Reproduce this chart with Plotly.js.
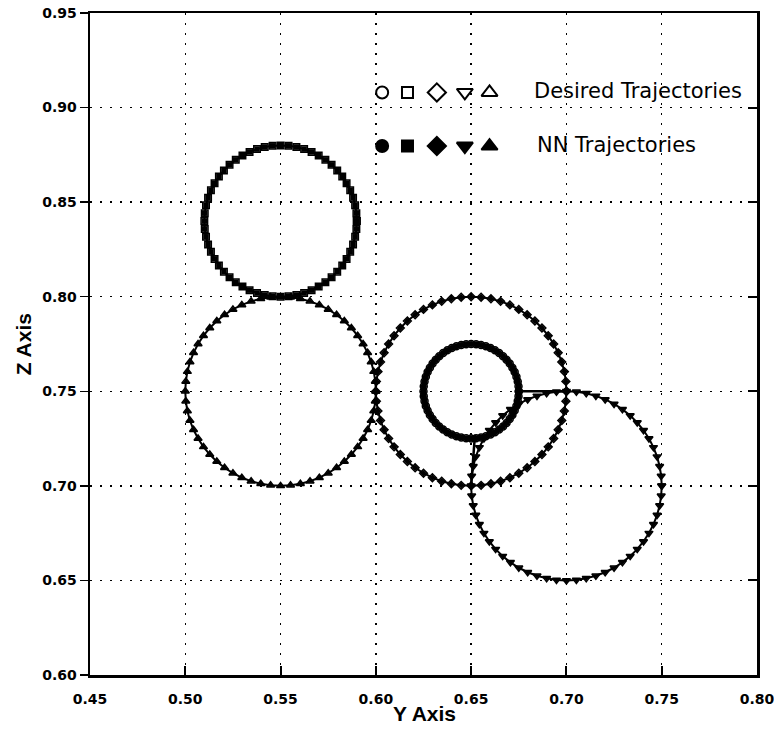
<!DOCTYPE html>
<html>
<head>
<meta charset="utf-8">
<script src="https://cdn.plot.ly/plotly-3.0.1.min.js"></script>
<style>html,body{margin:0;padding:0;background:#fff;}#chart{width:774px;height:729px;}</style>
</head>
<body>
<div id="chart"></div>
<script>
// Trajectory definitions (circles in the Y-Z plane)
const openSymbols   = ['circle-open', 'square-open', 'diamond-open', 'triangle-down-open', 'triangle-up-open'];
const filledSymbols = ['circle', 'square', 'diamond', 'triangle-down', 'triangle-up'];
const centerY = [0.65, 0.55, 0.65, 0.70, 0.55];
const centerZ = [0.75, 0.84, 0.75, 0.70, 0.75];
const radius  = [0.025, 0.04, 0.05, 0.05, 0.05];
const nPoints = [60, 60, 60, 60, 60];

// Transition segments of the NN trajectories
const transY = [[0.674, 0.70], [0.652, 0.65]];
const transZ = [[0.75, 0.75], [0.727, 0.70]];

// Axis ticks
const xTicks = [0.45, 0.50, 0.55, 0.60, 0.65, 0.70, 0.75, 0.80];
const yTicks = [0.60, 0.65, 0.70, 0.75, 0.80, 0.85, 0.90, 0.95];

// Labels
const legendLabels = ['Desired Trajectories', 'NN Trajectories'];
const xTitle = 'Y Axis';
const yTitle = 'Z Axis';

const markerSize = [7, 6.5, 6, 7, 7];

const traces = [];
for (let i = 0; i < centerY.length; i++) {
  const ys = [], zs = [];
  for (let k = 0; k <= nPoints[i]; k++) {
    const a = 2 * Math.PI * k / nPoints[i];
    ys.push(centerY[i] + radius[i] * Math.cos(a));
    zs.push(centerZ[i] + radius[i] * Math.sin(a));
  }
  traces.push({
    x: ys, y: zs, type: 'scatter', mode: 'lines+markers',
    line: {color: '#000', width: 2},
    marker: {symbol: openSymbols[i], size: markerSize[i], color: '#000', opacity: 1, line: {width: 1.5, color: '#000'}},
    showlegend: false, hoverinfo: 'skip'
  });
  traces.push({
    x: ys, y: zs, type: 'scatter', mode: 'markers',
    marker: {symbol: filledSymbols[i], size: markerSize[i] - 1, color: '#000', opacity: 1},
    showlegend: false, hoverinfo: 'skip'
  });
}
for (let j = 0; j < transY.length; j++) {
  traces.push({
    x: transY[j], y: transZ[j], type: 'scatter', mode: 'lines',
    line: {color: '#000', width: 2.5}, showlegend: false, hoverinfo: 'skip'
  });
}
traces.push({x: [], y: [], yaxis: 'y2', type: 'scatter', showlegend: false});

// Legend key symbols on an overlay unit-square axis
const keyX = [0.438, 0.476, 0.520, 0.562, 0.599];
const keySize = [12, 11, 14, 14, 14];
traces.push({
  x: keyX, y: keyX.map(() => 0.880), xaxis: 'x3', yaxis: 'y3', type: 'scatter', mode: 'markers',
  marker: {symbol: openSymbols, size: keySize, color: '#000', opacity: 1, line: {width: 2, color: '#000'}},
  showlegend: false, hoverinfo: 'skip'
});
traces.push({
  x: keyX, y: keyX.map(() => 0.799), xaxis: 'x3', yaxis: 'y3', type: 'scatter', mode: 'markers',
  marker: {symbol: filledSymbols, size: keySize, color: '#000', opacity: 1, line: {width: 2, color: '#000'}},
  showlegend: false, hoverinfo: 'skip'
});

const tickFont = {family: 'DejaVu Sans, Verdana, sans-serif', size: 14, color: '#000', weight: 'bold'};
const txtFont = {family: 'DejaVu Sans, sans-serif', size: 21, color: '#000'};
const titleFont = {family: 'Liberation Sans, Arial, sans-serif', size: 21, color: '#000', weight: 'bold'};

const annotations = [
  {xref: 'paper', yref: 'paper', x: 0.662, y: 0.882, text: legendLabels[0], showarrow: false, font: txtFont, xanchor: 'left', yanchor: 'middle'},
  {xref: 'paper', yref: 'paper', x: 0.667, y: 0.800, text: legendLabels[1], showarrow: false, font: txtFont, xanchor: 'left', yanchor: 'middle'},
  {xref: 'paper', yref: 'paper', x: 0.502, y: -0.0575, text: xTitle, showarrow: false, font: titleFont, xanchor: 'center', yanchor: 'middle'},
  {xref: 'paper', yref: 'paper', x: -0.100, y: 0.50, text: yTitle, showarrow: false, font: titleFont, xanchor: 'center', yanchor: 'middle', textangle: -90}
];

const layout = {
  width: 774, height: 729,
  margin: {l: 90, r: 17, t: 13, b: 54},
  paper_bgcolor: '#fff', plot_bgcolor: '#fff',
  showlegend: false,
  xaxis: {
    range: [0.45, 0.80], tickvals: xTicks, ticktext: xTicks.map(v => v.toFixed(2)),
    showline: true, linewidth: 2.5, linecolor: '#000', mirror: true,
    ticks: 'inside', ticklen: 9, tickwidth: 2, tickcolor: '#000',
    showgrid: true, gridcolor: '#000', gridwidth: 1.5, griddash: '2px,8px',
    zeroline: false, tickfont: tickFont, ticklabelstandoff: 10, ticklabeloverflow: 'allow',
    automargin: false
  },
  yaxis: {
    range: [0.60, 0.95], tickvals: yTicks, ticktext: yTicks.map(v => v.toFixed(2)),
    showline: true, linewidth: 2.5, linecolor: '#000', mirror: true,
    ticks: 'outside', ticklen: 8, tickwidth: 1.5, tickcolor: '#000',
    showgrid: true, gridcolor: '#000', gridwidth: 1.5, griddash: '2px,8px',
    zeroline: false, tickfont: tickFont, ticklabelstandoff: 0, ticklabeloverflow: 'allow',
    automargin: false
  },
  yaxis2: {
    overlaying: 'y', side: 'right', range: [0.60, 0.95], tickvals: yTicks,
    showticklabels: false, ticks: 'inside', ticklen: 9, tickwidth: 2, tickcolor: '#000',
    showgrid: false, showline: false, zeroline: false, automargin: false
  },
  xaxis3: {overlaying: 'x', anchor: 'y3', range: [0, 1], visible: false, fixedrange: true},
  yaxis3: {overlaying: 'y', anchor: 'x3', range: [0, 1], visible: false, fixedrange: true},
  annotations: annotations
};

Plotly.newPlot('chart', traces, layout, {staticPlot: true, displayModeBar: false});
</script>
</body>
</html>
